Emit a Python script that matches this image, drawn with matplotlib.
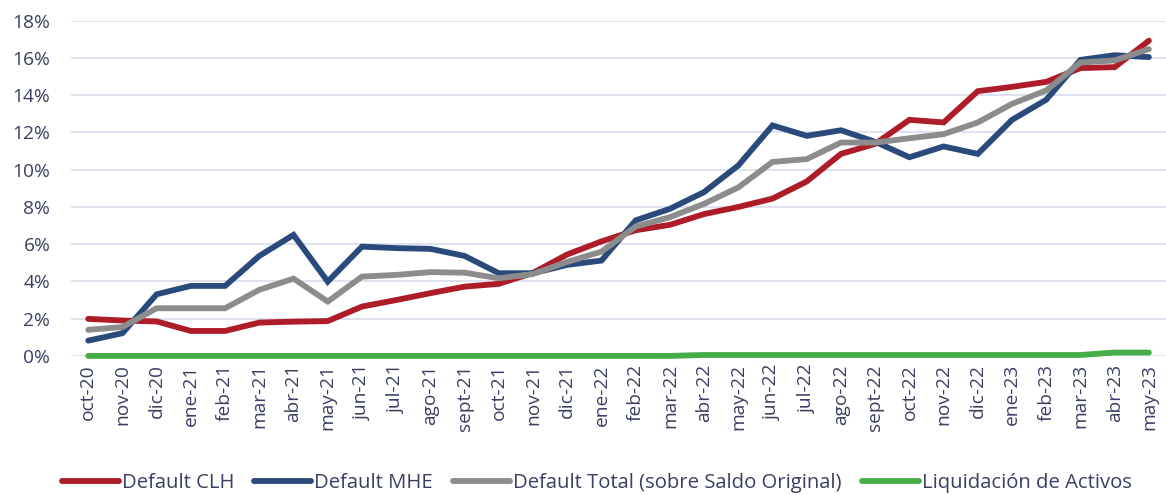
import numpy as np
import matplotlib.pyplot as plt
from matplotlib.ticker import FuncFormatter

plt.rcParams['font.family'] = ['Open Sans', 'DejaVu Sans']

months = ['oct-20', 'nov-20', 'dic-20', 'ene-21', 'feb-21', 'mar-21', 'abr-21', 'may-21',
          'jun-21', 'jul-21', 'ago-21', 'sept-21', 'oct-21', 'nov-21', 'dic-21', 'ene-22',
          'feb-22', 'mar-22', 'abr-22', 'may-22', 'jun-22', 'jul-22', 'ago-22', 'sept-22',
          'oct-22', 'nov-22', 'dic-22', 'ene-23', 'feb-23', 'mar-23', 'abr-23', 'may-23']

default_clh = [1.99, 1.90, 1.85, 1.34, 1.34, 1.79, 1.84, 1.87, 2.65, 3.00, 3.37, 3.72,
               3.87, 4.46, 5.45, 6.15, 6.75, 7.04, 7.62, 8.00, 8.45, 9.37, 10.85, 11.39,
               12.68, 12.54, 14.22, 14.45, 14.72, 15.46, 15.51, 16.93]
default_mhe = [0.82, 1.22, 3.31, 3.76, 3.76, 5.37, 6.50, 3.99, 5.87, 5.79, 5.75, 5.37,
               4.44, 4.44, 4.89, 5.12, 7.28, 7.90, 8.80, 10.23, 12.38, 11.82, 12.12, 11.50,
               10.67, 11.25, 10.85, 12.68, 13.76, 15.90, 16.15, 16.05]
default_total = [1.40, 1.55, 2.56, 2.56, 2.56, 3.55, 4.15, 2.92, 4.26, 4.35, 4.50, 4.47,
                 4.17, 4.40, 5.05, 5.60, 6.95, 7.45, 8.17, 9.05, 10.42, 10.57, 11.46, 11.46,
                 11.69, 11.91, 12.54, 13.54, 14.26, 15.76, 15.87, 16.48]
liquidacion = [0.0] * 18 + [0.05] * 11 + [0.05, 0.18, 0.18]

series = [
    ('Default CLH', default_clh, '#AE1C28'),
    ('Default MHE', default_mhe, '#2A4A7B'),
    ('Default Total (sobre Saldo Original)', default_total, '#8C8C8C'),
    ('Liquidación de Activos', liquidacion, '#47AD47'),
]

text_color = '#3A3F63'

fig = plt.figure(figsize=(11.66, 4.95), dpi=100)
ax = fig.add_axes([0.061, 0.281, 0.939, 0.677])

x = np.arange(len(months))
for label, values, color in series:
    ax.plot(x, values, color=color, linewidth=4.2, label=label, clip_on=False,
            solid_capstyle='round', solid_joinstyle='miter')

ax.set_ylim(0, 18)
ax.set_yticks(np.arange(0, 19, 2))
ax.yaxis.set_major_formatter(FuncFormatter(lambda v, _: f'{v:.0f}%'))
ax.set_xlim(-0.5, len(months) - 0.5)
ax.set_xticks(x)
ax.set_xticklabels(months, rotation=90)

ax.grid(axis='y', color='#D9DCEB', linewidth=1.2)
ax.set_axisbelow(True)
for s in ax.spines.values():
    s.set_visible(False)
ax.tick_params(axis='both', length=0, labelsize=13.8, labelcolor=text_color)
ax.tick_params(axis='y', pad=15)
ax.tick_params(axis='x', pad=6)

ax.legend(loc='center', bbox_to_anchor=(0.48, -0.38), ncol=4, frameon=False,
          fontsize=14.6, labelcolor=text_color, handlelength=2.8, handletextpad=0.15,
          columnspacing=1.0)

fig.savefig('out.png', dpi=100)
